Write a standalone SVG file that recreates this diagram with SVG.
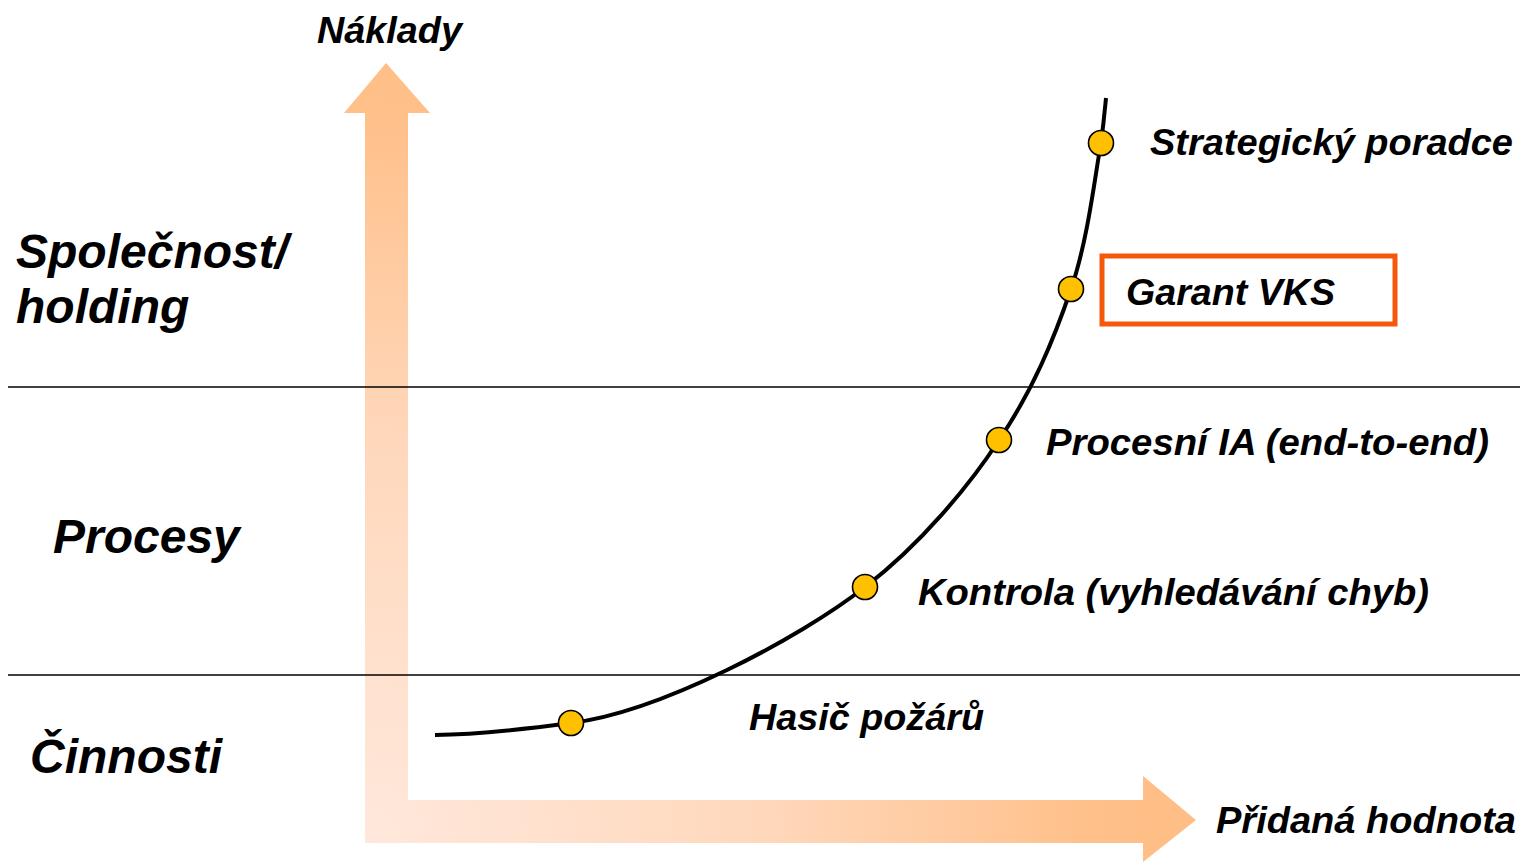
<svg xmlns="http://www.w3.org/2000/svg" width="1522" height="863" viewBox="0 0 1522 863">
<defs>
<radialGradient id="ag" gradientUnits="userSpaceOnUse" cx="365" cy="843" r="790">
<stop offset="0" stop-color="#FFE8DC"/>
<stop offset="0.5" stop-color="#FFD8BC"/>
<stop offset="0.92" stop-color="#FFC08A"/>
<stop offset="1" stop-color="#FFBE86"/>
</radialGradient>
<style>
text{font-family:"Liberation Sans",Arial,sans-serif;font-weight:bold;font-style:italic;fill:#000}
.big{font-size:48px}
.lbl{font-size:37px}
.dot{fill:#FFC000;stroke:#000;stroke-width:1.6}
.sep{stroke:#000;stroke-width:1.5}
</style>
</defs>
<rect width="1522" height="863" fill="#fff"/>
<g id="axes">
<path d="M365,843 L365,113 L344,113 L386,63 L430,113 L408,113 L408,800 L1143,800 L1143,776 L1196,820 L1143,862 L1143,843 Z" fill="url(#ag)"/>
</g>
<g id="bands">
<line class="sep" x1="8" y1="387" x2="1520" y2="387"/>
<line class="sep" x1="8" y1="675" x2="1520" y2="675"/>
</g>
<g id="connectors">
<path d="M435,735 C480,734.5 526,729 571,723 C660,712 800,638 865,587 C920,545 970,485 999,440 C1033,390 1054,339 1071,289 C1088,240 1095,175 1101,143 C1104,120 1105,108 1106,98" fill="none" stroke="#000" stroke-width="4"/>
</g>
<g id="axis-labels">
<text class="lbl" x="317" y="43" textLength="145" lengthAdjust="spacingAndGlyphs">Náklady</text>
<text class="lbl" x="1216" y="833" textLength="300" lengthAdjust="spacingAndGlyphs">Přidaná hodnota</text>
</g>
<g id="band-labels">
<text class="big" x="16" y="268">Společnost/</text>
<text class="big" x="16" y="323">holding</text>
<text class="big" x="53" y="553">Procesy</text>
<text class="big" x="30" y="773">Činnosti</text>
</g>
<g id="node-hasic">
<circle class="dot" cx="571" cy="723" r="12.5"/>
<text class="lbl" x="749" y="730" textLength="235" lengthAdjust="spacingAndGlyphs">Hasič požárů</text>
</g>
<g id="node-kontrola">
<circle class="dot" cx="865" cy="587" r="12.5"/>
<text class="lbl" x="918" y="605" textLength="511" lengthAdjust="spacingAndGlyphs">Kontrola (vyhledávání chyb)</text>
</g>
<g id="node-procesni">
<circle class="dot" cx="999" cy="440" r="12.5"/>
<text class="lbl" x="1046" y="455" textLength="443" lengthAdjust="spacingAndGlyphs">Procesní IA (end-to-end)</text>
</g>
<g id="node-garant">
<circle class="dot" cx="1071" cy="289" r="12.5"/>
<rect x="1102" y="256" width="293" height="68" fill="none" stroke="#F5580A" stroke-width="5"/>
<text class="lbl" x="1126" y="305" textLength="209" lengthAdjust="spacingAndGlyphs">Garant VKS</text>
</g>
<g id="node-strategicky">
<circle class="dot" cx="1101" cy="143" r="12.5"/>
<text class="lbl" x="1150" y="155" textLength="363" lengthAdjust="spacingAndGlyphs">Strategický poradce</text>
</g>
</svg>
